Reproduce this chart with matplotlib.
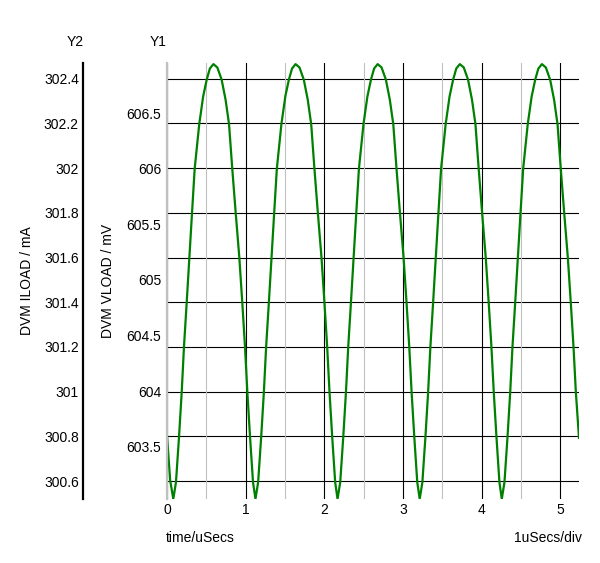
import matplotlib
matplotlib.use('Agg')
import matplotlib.pyplot as plt
from matplotlib.ticker import MultipleLocator

plt.rcParams['font.family'] = ['Liberation Sans', 'DejaVu Sans']

# time axis (uSecs)
time_us = [
    0.000, 0.040,
    0.080, 0.114, 0.153, 0.187, 0.216, 0.250, 0.284, 0.318, 0.352, 0.410, 0.460, 0.505, 0.545,
    0.590, 0.640, 0.695, 0.745, 0.789, 0.830, 0.874, 0.920, 0.958, 0.992, 1.022, 1.056, 1.094,
    1.125, 1.159, 1.198, 1.232, 1.261, 1.295, 1.329, 1.363, 1.397, 1.455, 1.505, 1.550, 1.590,
    1.635, 1.685, 1.740, 1.790, 1.834, 1.875, 1.919, 1.965, 2.003, 2.037, 2.067, 2.101, 2.139,
    2.169, 2.203, 2.242, 2.276, 2.305, 2.339, 2.373, 2.407, 2.441, 2.499, 2.549, 2.594, 2.634,
    2.679, 2.729, 2.784, 2.834, 2.878, 2.919, 2.963, 3.009, 3.047, 3.081, 3.111, 3.145, 3.183,
    3.214, 3.248, 3.287, 3.321, 3.350, 3.384, 3.418, 3.452, 3.486, 3.544, 3.594, 3.639, 3.679,
    3.724, 3.774, 3.829, 3.879, 3.923, 3.964, 4.008, 4.054, 4.092, 4.126, 4.156, 4.190, 4.228,
    4.258, 4.292, 4.331, 4.365, 4.394, 4.428, 4.462, 4.496, 4.530, 4.588, 4.638, 4.683, 4.723,
    4.768, 4.818, 4.873, 4.923, 4.967, 5.008, 5.052, 5.098, 5.136, 5.170, 5.200, 5.240,
]

# DVM VLOAD in mV
vload_mv = [
    603.60, 603.20,
    603.03, 603.18, 603.59, 603.99, 604.40, 604.79, 605.20, 605.60, 606.00, 606.40, 606.65, 606.80, 606.90,
    606.94, 606.91, 606.80, 606.62, 606.40, 606.00, 605.60, 605.20, 604.79, 604.40, 603.99, 603.59, 603.18,
    603.03, 603.18, 603.59, 603.99, 604.40, 604.79, 605.20, 605.60, 606.00, 606.40, 606.65, 606.80, 606.90,
    606.94, 606.91, 606.80, 606.62, 606.40, 606.00, 605.60, 605.20, 604.79, 604.40, 603.99, 603.59, 603.18,
    603.03, 603.18, 603.59, 603.99, 604.40, 604.79, 605.20, 605.60, 606.00, 606.40, 606.65, 606.80, 606.90,
    606.94, 606.91, 606.80, 606.62, 606.40, 606.00, 605.60, 605.20, 604.79, 604.40, 603.99, 603.59, 603.18,
    603.03, 603.18, 603.59, 603.99, 604.40, 604.79, 605.20, 605.60, 606.00, 606.40, 606.65, 606.80, 606.90,
    606.94, 606.91, 606.80, 606.62, 606.40, 606.00, 605.60, 605.20, 604.79, 604.40, 603.99, 603.59, 603.18,
    603.03, 603.18, 603.59, 603.99, 604.40, 604.79, 605.20, 605.60, 606.00, 606.40, 606.65, 606.80, 606.90,
    606.94, 606.91, 606.80, 606.62, 606.40, 606.00, 605.60, 605.20, 604.79, 604.40, 603.99, 603.58,
]

y1_ticks = [603.5, 604, 604.5, 605, 605.5, 606, 606.5]
y1_labels = ['603.5', '604', '604.5', '605', '605.5', '606', '606.5']
y2_ticks = [300.6, 300.8, 301, 301.2, 301.4, 301.6, 301.8, 302, 302.2, 302.4]
y2_labels = ['300.6', '300.8', '301', '301.2', '301.4', '301.6', '301.8', '302', '302.2', '302.4']
x_ticks = [0, 1, 2, 3, 4, 5]

fig = plt.figure(figsize=(6, 5.63), dpi=100)
ax = fig.add_axes([167 / 600, 1 - 499 / 563, 412 / 600, 436 / 563])
ax2 = ax.twinx()

# Y2 axis carries the horizontal grid, Y1 axis carries the trace on top
ax.set_zorder(ax2.get_zorder() + 1)
ax.patch.set_visible(False)

ax2.set_ylim(300.52, 302.47)
ax2.set_yticks(y2_ticks)
ax2.set_yticklabels(y2_labels, fontsize=10)
ax2.yaxis.set_ticks_position('left')
ax2.yaxis.set_label_position('left')
ax2.tick_params(axis='y', length=0, pad=3)
ax2.grid(axis='y', color='black', linewidth=0.8)
ax2.set_ylabel('DVM ILOAD / mA', fontsize=10)
ax2.yaxis.set_label_coords((34 - 167) / 412, 0.5)
for side in ['top', 'right', 'bottom']:
    ax2.spines[side].set_visible(False)
ax2.spines['left'].set_position(('axes', -84 / 412))
ax2.spines['left'].set_linewidth(1.6)
ax2.spines['left'].set_color('black')

ax.plot(time_us, vload_mv, color='#008000', linewidth=1.6)
ax.set_xlim(0, 5.24)
ax.set_ylim(603.03, 606.95)
ax.set_yticks(y1_ticks)
ax.set_yticklabels(y1_labels, fontsize=10)
ax.set_xticks(x_ticks)
ax.set_xticklabels([str(t) for t in x_ticks], fontsize=10)
ax.xaxis.set_minor_locator(MultipleLocator(0.5))
ax.tick_params(axis='both', which='both', length=0)
ax.tick_params(axis='y', pad=4)
ax.tick_params(axis='x', pad=3)
ax.grid(axis='x', which='major', color='black', linewidth=0.8)
ax.grid(axis='x', which='minor', color='#c0c0c0', linewidth=0.8)
ax.set_ylabel('DVM VLOAD / mV', fontsize=10)
ax.yaxis.set_label_coords((115 - 167) / 412, 0.5)
for side in ['top', 'right', 'bottom']:
    ax.spines[side].set_visible(False)
ax.spines['left'].set_color('#c0c0c0')
ax.spines['left'].set_linewidth(1.6)

fig.text(75 / 600, 1 - 42 / 563, 'Y2', fontsize=10, ha='center', va='center')
fig.text(158 / 600, 1 - 42 / 563, 'Y1', fontsize=10, ha='center', va='center')
fig.text(200 / 600, 1 - 538 / 563, 'time/uSecs', fontsize=10, ha='center', va='center')
fig.text(548 / 600, 1 - 538 / 563, '1uSecs/div', fontsize=10, ha='center', va='center')

fig.savefig('out.png', dpi=100)
